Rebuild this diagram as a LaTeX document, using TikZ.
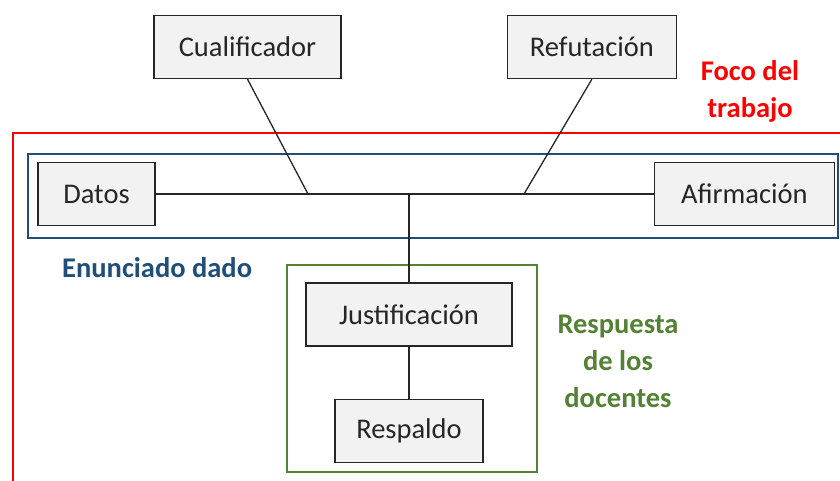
\documentclass[tikz,border=0pt]{standalone}
\usepackage{fontspec}
\setmainfont{Carlito}
\usepackage{xcolor}
\usetikzlibrary{positioning}

\definecolor{boxFill}{HTML}{F2F2F2}
\definecolor{boxLine}{HTML}{262626}
\definecolor{focoRed}{HTML}{FF0000}
\definecolor{enunBlue}{HTML}{1F4E79}
\definecolor{respGreen}{HTML}{548235}

\begin{document}
\begin{tikzpicture} [x=1pt, y=-1pt, node distance = 40pt]
            % Set primary nodes
            \tikzset{
                partNode/.style={
                        draw = boxLine,
                        fill = boxFill,
                        rectangle,
                        line width = 1.4pt,
                        minimum height = 63pt,
                        text = boxLine,
                        font = \fontsize{28.5}{33}\selectfont
                    }
            }
            \tikzset{
                frameNode/.style={
                        rectangle,
                        line width = 2.6pt,
                        inner sep = 0pt
                    }
            }
            \tikzset{
                labelNode/.style={
                        align = center,
                        font = \fontsize{28.5}{37}\selectfont\bfseries
                    }
            }
            \tikzset{
                link/.style={
                        draw = boxLine,
                        line width = 1.3pt
                    }
            }
            \useasboundingbox (0,0) rectangle (840,481);
            % Frames
            \draw[focoRed, line width = 2.6pt] (842,133) -- (13,133) -- (13,483);
            \node[frameNode, draw = enunBlue, minimum width = 810pt, minimum height = 84pt] (enunciado) at (433,196) {};
            \node[frameNode, draw = respGreen, minimum width = 250pt, minimum height = 207pt] (respuesta) at (412,368.5) {};
            % Placing nodes
            \node[partNode, minimum width = 187pt] (cual) at (247.5,47) {Cualificador};
            \node[partNode, minimum width = 169pt, right = 165pt of cual] (refut) {Refutación};
            \node[partNode, minimum width = 117pt] (datos) at (96.5,194) {Datos};
            \node[partNode, minimum width = 180pt, right = 498pt of datos] (afirm) {Afirmación};
            \node[partNode, minimum width = 206pt] (just) at (409,314.5) {Justificación};
            \node[partNode, minimum width = 148pt, below = 52pt of just] (resp) {Respaldo};
            % Labels
            \node[labelNode, text = focoRed] (focoLabel) at (750,91) {Foco del\\trabajo};
            \node[labelNode, text = enunBlue, anchor = west, inner sep = 0pt] (enunLabel) at (62,268) {Enunciado dado};
            \node[labelNode, text = respGreen] (respLabel) at (618,361) {Respuesta\\de los\\docentes};
            % Draw lines
            \coordinate (cualJoin) at (308,194);
            \coordinate (refutJoin) at (524,194);
            \coordinate (justJoin) at (409,194);
            \draw[link] (datos.east) -- (afirm.west);
            \draw[link] (cual.south) -- (cualJoin);
            \draw[link] (refut.south) -- (refutJoin);
            \draw[link] (justJoin) -- (just.north);
            \draw[link] (just.south) -- (resp.north);
        \end{tikzpicture}
\end{document}
